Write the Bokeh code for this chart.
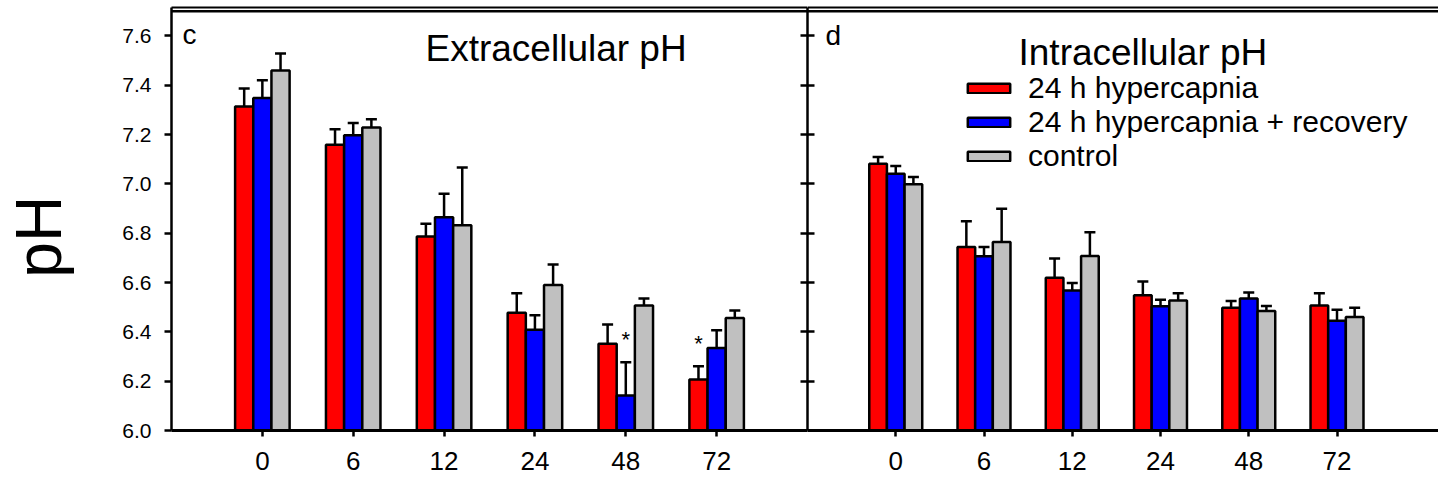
import numpy as np
from bokeh.plotting import figure
from bokeh.models import (Range1d, FixedTicker, LinearAxis, ColumnDataSource,
                          Whisker, TeeHead, Label, Legend, LegendItem, Span,
                          PrintfTickFormatter, CustomJSTickFormatter)
from bokeh.layouts import row
from bokeh.embed import file_html
from bokeh.resources import INLINE
from bokeh.core.properties import value

# ---------------- data ----------------
times = ["0", "6", "12", "24", "48", "72"]
series = ["24 h hypercapnia", "24 h hypercapnia + recovery", "control"]
colors = ["#ff0000", "#0000ff", "#c0c0c0"]

# Extracellular pH (panel c)
ext_hyper = [7.314, 7.159, 6.787, 6.477, 6.352, 6.207]
ext_hyper_err = [0.073, 0.062, 0.051, 0.079, 0.078, 0.053]
ext_recov = [7.348, 7.197, 6.865, 6.408, 6.142, 6.334]
ext_recov_err = [0.072, 0.050, 0.095, 0.059, 0.135, 0.072]
ext_ctrl = [7.460, 7.228, 6.832, 6.590, 6.507, 6.456]
ext_ctrl_err = [0.068, 0.034, 0.234, 0.083, 0.028, 0.031]
ext_sig_hyper = ["", "", "", "", "", "*"]
ext_sig_recov = ["", "", "", "", "*", ""]
ext_sig_ctrl = ["", "", "", "", "", ""]

# Intracellular pH (panel d)
int_hyper = [7.082, 6.744, 6.619, 6.548, 6.498, 6.507]
int_hyper_err = [0.027, 0.104, 0.078, 0.056, 0.027, 0.049]
int_recov = [7.041, 6.706, 6.568, 6.504, 6.535, 6.445]
int_recov_err = [0.031, 0.038, 0.030, 0.026, 0.025, 0.045]
int_ctrl = [6.998, 6.764, 6.707, 6.527, 6.485, 6.460]
int_ctrl_err = [0.030, 0.135, 0.097, 0.029, 0.020, 0.038]
int_sig = ["", "", "", "", "", ""]

y_ticks = [6.0, 6.2, 6.4, 6.6, 6.8, 7.0, 7.2, 7.4, 7.6]
y_min, panel_top = 6.0, 7.7

# ---------------- styling ----------------
FONT = "Liberation Sans"
H = 481
Y_END = 7.715
pos = np.arange(1, len(times) + 1)
offsets = [-0.2, 0.0, 0.2]
BAR_W = 0.2
LW = 2.5
EMPTY = CustomJSTickFormatter(code="return ''")


def add_bars(p, means, errs, sigs):
    rends = []
    for k, (m, e, s, c) in enumerate(zip(means, errs, sigs, colors)):
        m = np.array(m)
        e = np.array(e)
        src = ColumnDataSource(dict(x=pos + offsets[k], top=m, upper=m + e, sig=s))
        r = p.vbar(x="x", top="top", bottom=y_min, width=BAR_W, source=src,
                   fill_color=c, line_color="black", line_width=LW)
        w = Whisker(base="x", lower="top", upper="upper", source=src,
                    dimension="height", line_color="black", line_width=LW,
                    lower_head=None,
                    upper_head=TeeHead(size=11, line_color="black", line_width=LW),
                    level="annotation")
        p.add_layout(w)
        p.text(x="x", y="upper", text="sig", source=src, text_align="center",
               text_baseline="middle", y_offset=-23, text_font=value(FONT),
               text_font_size="22px", text_color="black")
        rends.append(r)
    return rends


def style_xaxis(p):
    ax = p.xaxis[0]
    ax.ticker = FixedTicker(ticks=list(pos))
    ax.major_label_overrides = {int(i): t for i, t in zip(pos, times)}
    ax.major_tick_out = 6
    ax.major_tick_in = 0
    ax.minor_tick_line_color = None
    ax.axis_line_width = 3
    ax.major_tick_line_width = LW
    ax.major_label_text_font = FONT
    ax.major_label_text_font_size = "26px"
    ax.major_label_text_color = "black"
    ax.major_label_standoff = 15


def add_top_lines(p):
    # outer line (frame top) and inner line at the panel top
    a2 = LinearAxis(ticker=FixedTicker(ticks=[]), major_tick_out=0, major_tick_in=0,
                    major_label_standoff=0, axis_line_width=2,
                    minor_tick_line_color=None)
    p.add_layout(a2, "above")
    p.add_layout(Span(location=panel_top, dimension="width", line_color="black",
                      line_width=2.5))


y_range = Range1d(y_min, Y_END)

# ---------------- left panel ----------------
p1 = figure(width=807, height=H, x_range=Range1d(0, 7), y_range=y_range,
            output_backend="svg", toolbar_location=None,
            min_border_left=171, min_border_right=0, min_border_top=7,
            min_border_bottom=51)
p1.outline_line_color = None
p1.grid.visible = False
p1.background_fill_color = "white"

add_bars(p1, [ext_hyper, ext_recov, ext_ctrl],
         [ext_hyper_err, ext_recov_err, ext_ctrl_err],
         [ext_sig_hyper, ext_sig_recov, ext_sig_ctrl])
style_xaxis(p1)

ya = p1.yaxis[0]
ya.ticker = FixedTicker(ticks=y_ticks)
ya.formatter = PrintfTickFormatter(format="%.1f")
ya.major_tick_out = 7
ya.major_tick_in = 0
ya.minor_tick_line_color = None
ya.axis_line_width = LW
ya.major_tick_line_width = LW
ya.major_label_text_font = FONT
ya.major_label_text_font_size = "21px"
ya.major_label_text_color = "black"
ya.major_label_standoff = 13
ya.axis_label = "pH\u00a0\u00a0"
ya.axis_label_text_font = FONT
ya.axis_label_text_font_size = "64px"
ya.axis_label_text_font_style = "normal"
ya.axis_label_text_color = "black"
ya.axis_label_standoff = 44

ra = LinearAxis(ticker=FixedTicker(ticks=y_ticks), major_tick_in=7, major_tick_out=0,
                formatter=EMPTY, major_label_standoff=0,
                axis_line_width=LW, major_tick_line_width=LW,
                minor_tick_line_color=None)
p1.add_layout(ra, "right")
add_top_lines(p1)

p1.add_layout(Label(x=254, y=382, x_units="screen", y_units="screen",
                    text="Extracellular pH", text_baseline="alphabetic",
                    text_font=FONT, text_font_size="37px", text_color="black"))
p1.add_layout(Label(x=11, y=396, x_units="screen", y_units="screen", text="c",
                    text_baseline="alphabetic", text_font=FONT,
                    text_font_size="28px", text_color="black"))

# ---------------- right panel ----------------
p2 = figure(width=631, height=H, x_range=Range1d(0, 7.15), y_range=y_range,
            output_backend="svg", toolbar_location=None,
            min_border_left=0, min_border_right=0, min_border_top=7,
            min_border_bottom=51)
p2.outline_line_color = None
p2.grid.visible = False

rends = add_bars(p2, [int_hyper, int_recov, int_ctrl],
                 [int_hyper_err, int_recov_err, int_ctrl_err],
                 [int_sig, int_sig, int_sig])
style_xaxis(p2)

yb = p2.yaxis[0]
yb.ticker = FixedTicker(ticks=y_ticks)
yb.formatter = EMPTY
yb.major_tick_in = 7
yb.major_tick_out = 0
yb.minor_tick_line_color = None
yb.axis_line_width = LW
yb.major_tick_line_width = LW
yb.major_label_standoff = 0
add_top_lines(p2)

legend = Legend(items=[LegendItem(label=s, renderers=[r]) for s, r in zip(series, rends)],
                location=(155, 257), glyph_width=53, glyph_height=12,
                label_text_font=FONT, label_text_font_size="30px",
                label_text_color="black", label_standoff=13, spacing=0,
                padding=0, margin=0, border_line_color=None,
                background_fill_alpha=0, label_height=12)
p2.add_layout(legend)

p2.add_layout(Label(x=211, y=378, x_units="screen", y_units="screen",
                    text="Intracellular pH", text_baseline="alphabetic",
                    text_font=FONT, text_font_size="37px", text_color="black"))
p2.add_layout(Label(x=18, y=395, x_units="screen", y_units="screen", text="d",
                    text_baseline="alphabetic", text_font=FONT,
                    text_font_size="28px", text_color="black"))

layout = row(p1, p2, spacing=0)
open("out.html", "w").write(file_html(layout, INLINE))
